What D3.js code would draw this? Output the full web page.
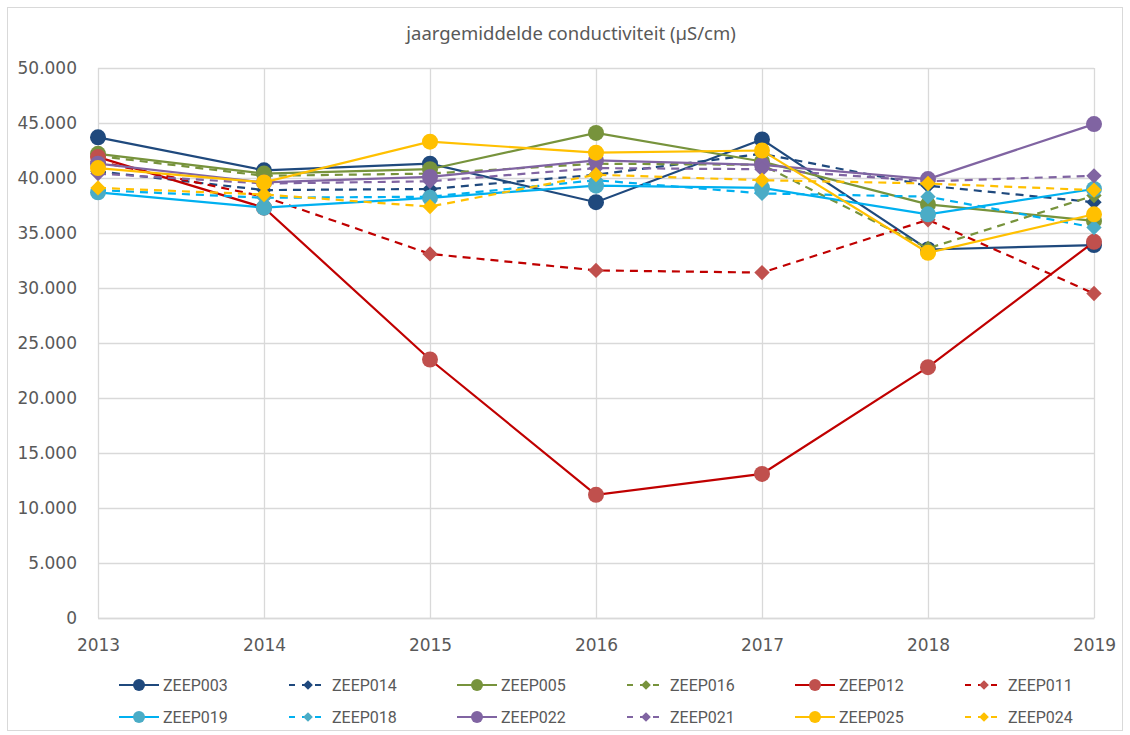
<!DOCTYPE html>
<html>
<head>
<meta charset="utf-8">
<script src="https://cdn.jsdelivr.net/npm/d3@7"></script>
<style>
  body { margin: 0; background: #fff; }
  svg { display: block; }
</style>
</head>
<body>
<div id="vis1"></div>
<script>
const FRAME_WIDTH = 1130;
const FRAME_HEIGHT = 735;
const MARGINS = {left: 98, right: 36, top: 68, bottom: 117};
const VIS_WIDTH = FRAME_WIDTH - MARGINS.left - MARGINS.right;
const VIS_HEIGHT = FRAME_HEIGHT - MARGINS.top - MARGINS.bottom;

// data
const years = [2013, 2014, 2015, 2016, 2017, 2018, 2019];
const yTicks = [0, 5000, 10000, 15000, 20000, 25000, 30000, 35000, 40000, 45000, 50000];

const seriesNames = ['ZEEP003', 'ZEEP014', 'ZEEP005', 'ZEEP016', 'ZEEP012', 'ZEEP011',
                     'ZEEP019', 'ZEEP018', 'ZEEP022', 'ZEEP021', 'ZEEP025', 'ZEEP024'];

const ZEEP003 = [43700, 40700, 41300, 37800, 43500, 33500, 33900];
const ZEEP014 = [40600, 38900, 39000, 40300, 42200, 39300, 37800];
const ZEEP005 = [42200, 40400, 40800, 44100, 41500, 37600, 36100];
const ZEEP016 = [42000, 40200, 40400, 41300, 41200, 33600, 38400];
const ZEEP012 = [41900, 37300, 23500, 11200, 13100, 22800, 34200];
const ZEEP011 = [41500, 38300, 33100, 31600, 31400, 36200, 29500];
const ZEEP019 = [38700, 37300, 38200, 39300, 39100, 36700, 39000];
const ZEEP018 = [38900, 38200, 38300, 39800, 38600, 38300, 35500];
const ZEEP022 = [41300, 39600, 40100, 41600, 41200, 39900, 44900];
const ZEEP021 = [40400, 39500, 39700, 40900, 40800, 39700, 40200];
const ZEEP025 = [40900, 39600, 43300, 42300, 42500, 33200, 36700];
const ZEEP024 = [39100, 38500, 37400, 40300, 39800, 39500, 38900];

const seriesValues = [ZEEP003, ZEEP014, ZEEP005, ZEEP016, ZEEP012, ZEEP011,
                      ZEEP019, ZEEP018, ZEEP022, ZEEP021, ZEEP025, ZEEP024];

// styles per series
const lineColors   = ['#1f497d', '#1f497d', '#77933c', '#77933c', '#c00000', '#c00000',
                      '#00b0f0', '#00b0f0', '#8064a2', '#8064a2', '#ffc000', '#ffc000'];
const markerColors = ['#1f497d', '#1f497d', '#77933c', '#77933c', '#c0504d', '#c0504d',
                      '#4bacc6', '#4bacc6', '#8064a2', '#8064a2', '#ffc000', '#ffc000'];

const series = seriesNames.map((name, i) => ({
  name: name,
  values: seriesValues[i],
  dashed: i % 2 === 1,
  line: lineColors[i],
  marker: markerColors[i]
}));

const locale = d3.formatLocale({decimal: ',', thousands: '.', grouping: [3], currency: ['€', '']});
const fmt = locale.format(',.0f');

const FRAME1 = d3.select('#vis1')
  .append('svg')
    .attr('width', FRAME_WIDTH)
    .attr('height', FRAME_HEIGHT);

// chart border
FRAME1.append('rect')
  .attr('x', 7.5).attr('y', 7.5)
  .attr('width', FRAME_WIDTH - 15).attr('height', FRAME_HEIGHT - 12)
  .attr('fill', '#fff')
  .attr('stroke', '#d9d9d9');

FRAME1.append('text')
  .attr('x', 571).attr('y', 40)
  .attr('text-anchor', 'middle')
  .attr('font-family', '"Noto Sans", sans-serif')
  .attr('font-size', '18.5px')
  .attr('fill', '#595959')
  .text('jaargemiddelde conductiviteit (µS/cm)');

const X_SCALE = d3.scalePoint().domain(years).range([0, VIS_WIDTH]);
const Y_SCALE = d3.scaleLinear().domain([0, 50000]).range([VIS_HEIGHT, 0]);

const g = FRAME1.append('g')
  .attr('transform', 'translate(' + MARGINS.left + ',' + MARGINS.top + ')');

// gridlines
g.append('g')
  .call(d3.axisLeft(Y_SCALE).tickValues(yTicks).tickSize(-VIS_WIDTH).tickFormat(''))
  .call(a => a.select('.domain').remove())
  .selectAll('line').attr('stroke', '#d9d9d9').attr('stroke-width', 1.3);

g.append('g')
  .attr('transform', 'translate(0,' + VIS_HEIGHT + ')')
  .call(d3.axisBottom(X_SCALE).tickSize(-VIS_HEIGHT).tickFormat(''))
  .call(a => a.select('.domain').remove())
  .selectAll('line').attr('stroke', '#d9d9d9').attr('stroke-width', 1.3);

// axes labels
const yAxis = g.append('g')
  .call(d3.axisLeft(Y_SCALE).tickValues(yTicks).tickSize(0).tickPadding(21).tickFormat(fmt));
yAxis.select('.domain').remove();
yAxis.selectAll('text')
  .attr('font-family', '"DejaVu Sans", sans-serif')
  .attr('font-size', '17px')
  .attr('fill', '#595959');

const xAxis = g.append('g')
  .attr('transform', 'translate(0,' + VIS_HEIGHT + ')')
  .call(d3.axisBottom(X_SCALE).tickSize(0).tickPadding(21).tickFormat(d3.format('d')));
xAxis.select('.domain').attr('stroke', '#d9d9d9').attr('stroke-width', 1.3);
xAxis.selectAll('text')
  .attr('font-family', '"DejaVu Sans", sans-serif')
  .attr('font-size', '17px')
  .attr('fill', '#595959');

const line = d3.line()
  .x((d, i) => X_SCALE(years[i]))
  .y(d => Y_SCALE(d));

const diamond = d3.symbol().type(d3.symbolDiamond2).size(150);

series.forEach(s => {
  g.append('path')
    .datum(s.values)
    .attr('fill', 'none')
    .attr('stroke', s.line)
    .attr('stroke-width', 2.2)
    .attr('stroke-dasharray', s.dashed ? '8,6' : null)
    .attr('d', line);

  if (s.dashed) {
    g.append('g').selectAll('path')
      .data(s.values)
      .enter()
      .append('path')
        .attr('transform', (d, i) => 'translate(' + X_SCALE(years[i]) + ',' + Y_SCALE(d) + ')')
        .attr('d', diamond)
        .attr('fill', s.marker);
  } else {
    g.append('g').selectAll('circle')
      .data(s.values)
      .enter()
      .append('circle')
        .attr('cx', (d, i) => X_SCALE(years[i]))
        .attr('cy', d => Y_SCALE(d))
        .attr('r', 8)
        .attr('fill', s.marker);
  }
});

// legend
const legend = FRAME1.append('g');
series.forEach((s, i) => {
  const col = i % 6;
  const row = Math.floor(i / 6);
  const lx = 119 + col * 169;
  const ly = 685 + row * 32;
  const item = legend.append('g').attr('transform', 'translate(' + lx + ',' + ly + ')');
  item.append('line')
    .attr('x1', 0).attr('x2', 40)
    .attr('stroke', s.line)
    .attr('stroke-width', 2.2)
    .attr('stroke-dasharray', s.dashed ? '6,7' : null)
    .attr('stroke-dashoffset', s.dashed ? -1 : 0);
  if (s.dashed) {
    item.append('path')
      .attr('transform', 'translate(20,0)')
      .attr('d', d3.symbol().type(d3.symbolDiamond2).size(60))
      .attr('fill', s.marker);
  } else {
    item.append('circle').attr('cx', 20).attr('r', 6).attr('fill', s.marker);
  }
  item.append('text')
    .attr('x', 44).attr('y', 5.5)
    .attr('font-family', '"Liberation Sans Narrow", "Roboto", sans-serif')
    .attr('font-size', '16px')
    .attr('fill', '#595959')
    .text(s.name);
});
</script>
</body>
</html>
